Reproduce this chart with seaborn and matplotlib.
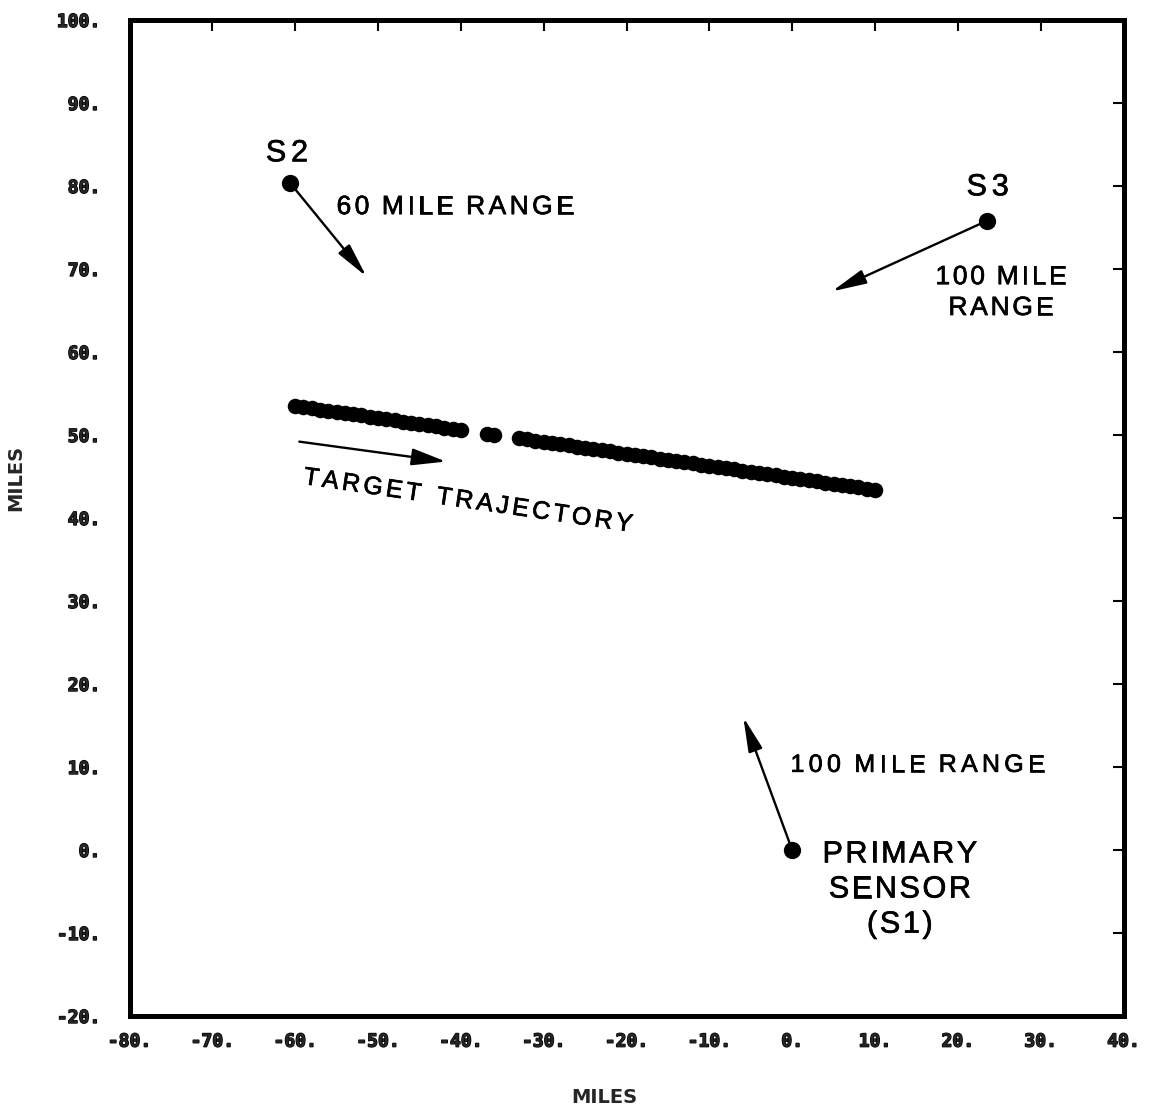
import numpy as np
import pandas as pd
import matplotlib
matplotlib.use("Agg")
import matplotlib.pyplot as plt
import matplotlib.text as mtext
import matplotlib.transforms as mtransforms
import matplotlib.patheffects as pe
from matplotlib.patches import FancyArrowPatch
import seaborn as sns

# Estimated target positions along the track (miles)
track_x = [-60, -59, -58, -57, -56, -55, -54, -53, -52, -51, -50, -49, -48, -47,
           -46, -45, -44, -43, -42, -41, -40,
           -36.8, -36.0,
           -33, -32, -31, -30, -29, -28, -27, -26, -25, -24, -23, -22, -21, -20,
           -19, -18, -17, -16, -15, -14, -13, -12, -11, -10, -9, -8, -7, -6, -5,
           -4, -3, -2, -1, 0, 1, 2, 3, 4, 5, 6, 7, 8, 9, 10]
track_y = [53.50, 53.36, 53.21, 53.07, 52.92, 52.78, 52.63, 52.49, 52.35, 52.20,
           52.06, 51.91, 51.77, 51.62, 51.48, 51.34, 51.19, 51.05, 50.90, 50.76,
           50.61,
           50.15, 50.04,
           49.60, 49.46, 49.32, 49.17, 49.03, 48.88, 48.74, 48.60, 48.45, 48.31,
           48.16, 48.02, 47.87, 47.73, 47.58, 47.44, 47.30, 47.15, 47.01, 46.86,
           46.72, 46.58, 46.43, 46.29, 46.14, 46.00, 45.85, 45.71, 45.57, 45.42,
           45.28, 45.13, 44.99, 44.84, 44.70, 44.56, 44.41, 44.27, 44.12, 43.98,
           43.83, 43.69, 43.55, 43.40]

# Sensor sites and the tips of their range arrows (miles)
sensor_names = ["S1", "S2", "S3"]
sensor_x = [0.0, -60.6, 23.5]
sensor_y = [0.0, 80.35, 75.8]
range_tip_x = [-5.9, -51.4, 4.8]
range_tip_y = [16.0, 69.1, 67.3]

# Direction-of-travel arrow
heading_x = [-59.5, -41.8]
heading_y = [49.2, 46.8]

x_ticks = list(range(-80, 41, 10))
y_ticks = list(range(-20, 101, 10))
x_tick_labels = [f"{v}." for v in x_ticks]
y_tick_labels = [f"{v}." for v in y_ticks]


class TrackedText(mtext.Text):
    """Text drawn glyph by glyph with extra letter spacing (block centred vertically)."""

    def __init__(self, x, y, text, tracking=3.0, word_space=5.0, line_step=1.2, **kwargs):
        super().__init__(x, y, text, **kwargs)
        self._tracking = tracking
        self._word_space = word_space
        self._line_step = line_step

    def draw(self, renderer):
        if not self.get_visible() or not self.get_text():
            return
        prop = self.get_fontproperties()
        p2px = renderer.points_to_pixels
        gap = p2px(self._tracking)
        space = p2px(self._word_space)
        step = self._line_step * p2px(prop.get_size_in_points())
        _, h, d = renderer.get_text_width_height_descent("H", prop, ismath=False)
        cap = h - d
        lines = self.get_text().split("\n")
        x0, y0 = self.get_transform().transform(self.get_unitless_position())
        theta = np.deg2rad(self.get_rotation())
        c, s = np.cos(theta), np.sin(theta)
        ha = self.get_horizontalalignment()
        block_h = cap + (len(lines) - 1) * step
        for i, line in enumerate(lines):
            glyphs = []
            pos = 0.0
            for ch in line:
                if ch == " ":
                    pos += space
                    continue
                w = renderer.get_text_width_height_descent(ch, prop, ismath=False)[0]
                glyphs.append((ch, pos))
                pos += w + gap
            width = pos - gap
            u0 = {"center": -width / 2, "right": -width}.get(ha, 0.0)
            v = block_h / 2 - cap - i * step
            for ch, p in glyphs:
                u = u0 + p
                g = mtext.Text(x0 + u * c - v * s, y0 + u * s + v * c, ch,
                               fontproperties=prop, color=self.get_color(),
                               rotation=self.get_rotation(), rotation_mode="anchor",
                               ha="left", va="baseline",
                               transform=mtransforms.IdentityTransform())
                g.set_path_effects(self.get_path_effects())
                g.set_figure(self.get_figure())
                g.draw(renderer)


sns.set_style("white")
plt.rcParams["font.family"] = ["Liberation Sans", "DejaVu Sans"]

fig = plt.figure(figsize=(11.56, 11.12), dpi=100)
ax = fig.add_axes([129.5 / 1156, 1 - 1016 / 1112, 994 / 1156, 996 / 1112])

track = pd.DataFrame({"x": track_x, "y": track_y})
sns.scatterplot(data=track, x="x", y="y", ax=ax, color="black", s=125,
                linewidth=0, marker="o", legend=False, zorder=3)

sensors = pd.DataFrame({"name": sensor_names, "x": sensor_x, "y": sensor_y})
sns.scatterplot(data=sensors, x="x", y="y", ax=ax, color="black", s=155,
                linewidth=0, marker="o", legend=False, zorder=4)

range_style = "-|>,head_length=1.05,head_width=0.22"
for sx, sy, tx, ty in zip(sensor_x, sensor_y, range_tip_x, range_tip_y):
    ax.add_patch(FancyArrowPatch((sx, sy), (tx, ty), arrowstyle=range_style,
                                 mutation_scale=20, lw=1.7, color="black",
                                 shrinkA=0, shrinkB=0, zorder=3))
ax.add_patch(FancyArrowPatch((heading_x[0], heading_y[0]), (heading_x[1], heading_y[1]),
                             arrowstyle="-|>,head_length=1.05,head_width=0.26",
                             mutation_scale=20, lw=1.7, color="black",
                             shrinkA=0, shrinkB=0, zorder=3))

ink = [pe.withStroke(linewidth=0.5, foreground="black")]


def label(x, y, s, size, ha="center", rotation=0, tracking=3.0, word_space=6.5,
          line_step=1.2):
    t = TrackedText(x, y, s, tracking=tracking, word_space=word_space,
                    line_step=line_step, fontsize=size, ha=ha, va="center",
                    rotation=rotation, color="black", fontfamily="Liberation Sans")
    t.set_path_effects(ink)
    ax.add_artist(t)


label(-61.0, 84.3, "S2", 22, tracking=3.5)
label(23.6, 80.2, "S3", 22, tracking=3.5)
label(-55.0, 77.7, "60 MILE RANGE", 19, ha="left", tracking=2.5)
label(25.2, 67.4, "100 MILE\nRANGE", 19, line_step=1.17, tracking=2.0)
label(-39.1, 42.3, "TARGET TRAJECTORY", 18, rotation=-8.3, tracking=2.5,
      word_space=9.0)
label(-0.2, 10.5, "100 MILE RANGE", 18, ha="left", tracking=3.1)
label(13.0, -4.4, "PRIMARY\nSENSOR\n(S1)", 22, line_step=1.15, tracking=1.9)

ax.set_xlim(-80, 40)
ax.set_ylim(-20, 100)
ax.set_xticks(x_ticks, labels=x_tick_labels)
ax.set_yticks(y_ticks, labels=y_tick_labels)
ax.tick_params(axis="both", which="major", direction="in", length=8, width=1.5,
               top=True, right=True, color="black")
ax.tick_params(axis="x", pad=12)
ax.tick_params(axis="y", pad=21)
for lab in ax.get_xticklabels() + ax.get_yticklabels():
    lab.set_fontfamily("DejaVu Sans Mono")
    lab.set_fontweight("bold")
    lab.set_fontsize(13)
    lab.set_path_effects([pe.withStroke(linewidth=1.0, foreground="black")])
for sp in ax.spines.values():
    sp.set_visible(True)
    sp.set_linewidth(3.6)
    sp.set_color("black")
    sp.set_capstyle("projecting")

ax.set_xlabel("MILES", fontfamily="DejaVu Sans", fontweight="bold", fontsize=14)
ax.set_ylabel("MILES", fontfamily="DejaVu Sans", fontweight="bold", fontsize=14)
ax.xaxis.set_label_coords(0.478, -0.0723)
ax.yaxis.set_label_coords(-0.105, 0.54)

fig.savefig("out.png", dpi=100, facecolor="white")
